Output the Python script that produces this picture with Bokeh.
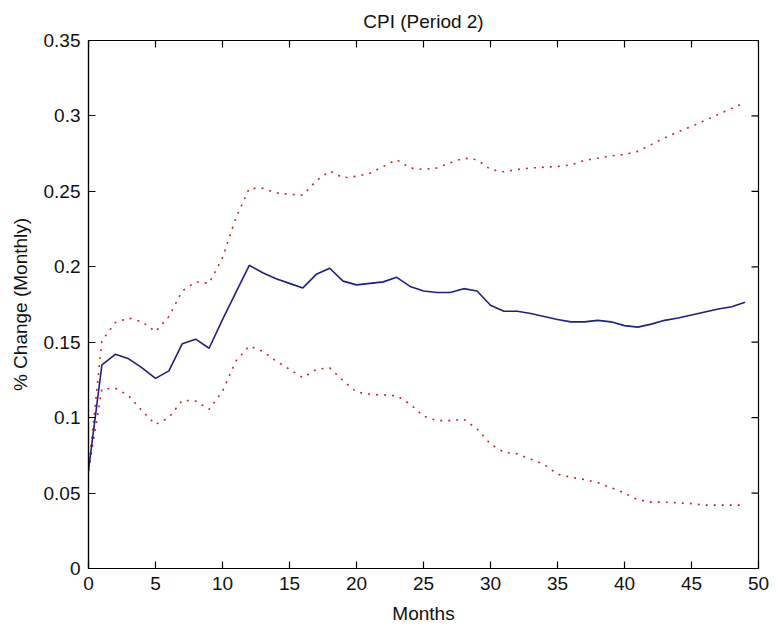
from bokeh.plotting import figure
from bokeh.models import Range1d, FixedTicker
from bokeh.embed import file_html
from bokeh.resources import INLINE

months = list(range(50))
central = [0.065, 0.135, 0.142, 0.139, 0.133, 0.126, 0.131, 0.149, 0.152, 0.146,
           0.165, 0.183, 0.201, 0.196, 0.192, 0.189, 0.186, 0.195, 0.199, 0.1905,
           0.188, 0.189, 0.190, 0.193, 0.187, 0.184, 0.183, 0.183, 0.1855, 0.184,
           0.1745, 0.1705, 0.1705, 0.169, 0.167, 0.165, 0.1635, 0.1635, 0.1645, 0.1635,
           0.161, 0.160, 0.162, 0.1645, 0.166, 0.168, 0.170, 0.172, 0.1735, 0.1765]
upper = [0.065, 0.151, 0.163, 0.166, 0.1635, 0.157, 0.167, 0.184, 0.190, 0.189,
         0.206, 0.2325, 0.252, 0.252, 0.249, 0.248, 0.2475, 0.257, 0.2635, 0.259,
         0.260, 0.262, 0.2665, 0.271, 0.2655, 0.2645, 0.2655, 0.269, 0.272, 0.271,
         0.2645, 0.263, 0.2645, 0.2655, 0.266, 0.2665, 0.2675, 0.2705, 0.272, 0.2735,
         0.2745, 0.2765, 0.281, 0.2855, 0.2895, 0.293, 0.297, 0.301, 0.305, 0.309]
lower = [0.065, 0.119, 0.1195, 0.1145, 0.1045, 0.0955, 0.100, 0.1115, 0.111, 0.1055,
         0.1175, 0.1375, 0.1475, 0.144, 0.1375, 0.132, 0.1265, 0.132, 0.133, 0.1245,
         0.117, 0.1155, 0.115, 0.1145, 0.109, 0.101, 0.098, 0.098, 0.099, 0.0925,
         0.0825, 0.077, 0.076, 0.0725, 0.069, 0.0625, 0.0605, 0.059, 0.057, 0.0535,
         0.050, 0.0455, 0.044, 0.044, 0.0435, 0.043, 0.042, 0.042, 0.042, 0.042]
x_ticks = [0, 5, 10, 15, 20, 25, 30, 35, 40, 45, 50]
y_ticks = [0, 0.05, 0.1, 0.15, 0.2, 0.25, 0.3, 0.35]

FONT = "Liberation Sans"
FS = "19px"
X_MAX = x_ticks[-1]
Y_MAX = y_ticks[-1]

p = figure(width=776, height=634, output_backend="svg", toolbar_location=None,
           x_range=Range1d(0, X_MAX), y_range=Range1d(0, Y_MAX),
           min_border_left=88, min_border_right=18, min_border_top=40, min_border_bottom=66,
           title="CPI (Period 2)", x_axis_label="Months", y_axis_label="% Change (Monthly)")
p.background_fill_color = "white"
p.border_fill_color = "white"
p.outline_line_color = "black"
p.outline_line_width = 1.2
p.grid.visible = False

p.title.align = "center"
p.title.text_font = FONT
p.title.text_font_size = FS
p.title.text_font_style = "normal"
p.title.text_color = "#111111"
p.title.offset = 0
p.title.standoff = 17

for ax, ticks in ((p.xaxis[0], x_ticks), (p.yaxis[0], y_ticks)):
    ax.ticker = FixedTicker(ticks=ticks)
    ax.major_tick_in = 7
    ax.major_tick_out = 0
    ax.minor_tick_line_color = None
    ax.axis_line_color = "black"
    ax.major_tick_line_color = "black"
    ax.axis_line_width = 1.2
    ax.major_tick_line_width = 1.2
    ax.major_label_text_font = FONT
    ax.major_label_text_font_size = FS
    ax.major_label_text_color = "#111111"
    ax.axis_label_text_font = FONT
    ax.axis_label_text_font_size = FS
    ax.axis_label_text_font_style = "normal"
    ax.axis_label_text_color = "#111111"
    ax.major_label_standoff = 8
    ax.axis_label_standoff = 10

# inward ticks on the top and right edges of the box (MATLAB "box on")
frame_w = 776 - 88 - 18
frame_h = 634 - 40 - 66
tl_y = 7 / frame_h * Y_MAX
tl_x = 7 / frame_w * X_MAX
p.segment(x0=x_ticks, y0=[Y_MAX] * len(x_ticks), x1=x_ticks, y1=[Y_MAX - tl_y] * len(x_ticks),
          line_color="black", line_width=1.2)
p.segment(x0=[X_MAX] * len(y_ticks), y0=y_ticks, x1=[X_MAX - tl_x] * len(y_ticks), y1=y_ticks,
          line_color="black", line_width=1.2)

p.line(months, upper, line_color="#c0282b", line_width=1.6, line_dash="2 6")
p.line(months, lower, line_color="#c0282b", line_width=1.6, line_dash="2 6")
p.line(months, central, line_color="#20207f", line_width=1.6)

open("out.html", "w").write(file_html(p, INLINE))
